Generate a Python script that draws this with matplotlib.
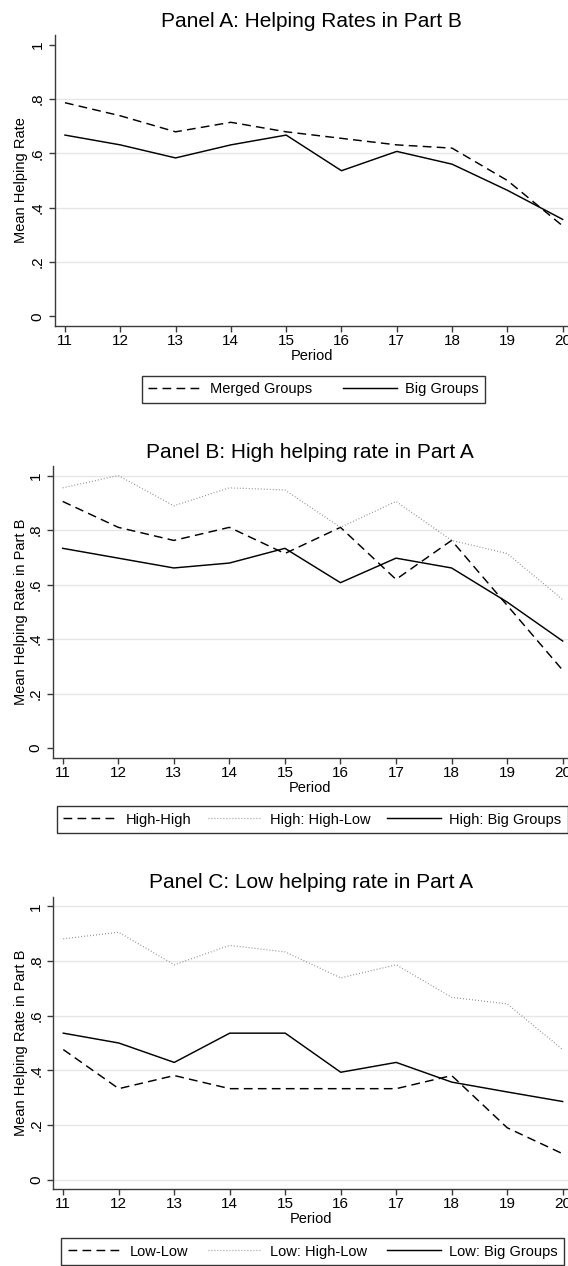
import matplotlib
matplotlib.use("Agg")
import matplotlib.pyplot as plt
from matplotlib.lines import Line2D

plt.rcParams['font.family'] = ['Liberation Sans', 'DejaVu Sans']

# ---------------- data ----------------
periods = [11, 12, 13, 14, 15, 16, 17, 18, 19, 20]

# Panel A
merged_groups = [0.786, 0.738, 0.679, 0.714, 0.679, 0.655, 0.631, 0.619, 0.500, 0.333]
big_groups = [0.667, 0.631, 0.583, 0.631, 0.667, 0.536, 0.607, 0.560, 0.464, 0.357]

# Panel B
high_high = [0.905, 0.810, 0.762, 0.810, 0.714, 0.810, 0.619, 0.762, 0.524, 0.286]
high_highlow = [0.955, 1.000, 0.889, 0.955, 0.947, 0.810, 0.905, 0.762, 0.714, 0.545]
high_big = [0.733, 0.697, 0.661, 0.679, 0.733, 0.607, 0.697, 0.661, 0.536, 0.393]

# Panel C
low_low = [0.476, 0.333, 0.381, 0.333, 0.333, 0.333, 0.333, 0.381, 0.190, 0.095]
low_highlow = [0.881, 0.905, 0.786, 0.857, 0.833, 0.738, 0.786, 0.667, 0.643, 0.476]
low_big = [0.536, 0.500, 0.429, 0.536, 0.536, 0.393, 0.429, 0.357, 0.321, 0.286]

ytick_vals = [0, 0.2, 0.4, 0.6, 0.8, 1.0]
ytick_labels = ["0", ".2", ".4", ".6", ".8", "1"]

titles = ["Panel A: Helping Rates in Part B",
          "Panel B: High helping rate in Part A",
          "Panel C: Low helping rate in Part A"]
ylabels = ["Mean Helping Rate", "Mean Helping Rate in Part B", "Mean Helping Rate in Part B"]

# ---------------- styles ----------------
W, H = 568, 1266
DPI = 100
AXCOL = '#3a3a3a'
GRIDCOL = '#e6e6e6'
FS = 10.5
TFS = 11

solid = dict(color='black', lw=1.05, linestyle='-')
dashed = dict(color='black', lw=1.05, linestyle=(0, (6.0, 3.6)))
dotted = dict(color='#8a8a8a', lw=0.9, linestyle=(0, (0.7, 1.7)))

fig = plt.figure(figsize=(W / DPI, H / DPI), dpi=DPI)
fig.patch.set_facecolor('white')


def add_axes_px(left, top, right, bottom):
    return fig.add_axes([left / W, 1 - bottom / H, (right - left) / W, (bottom - top) / H])


panels = [
    dict(rect=(55, 35, 568, 326),
         series=[(merged_groups, dashed, "Merged Groups"), (big_groups, solid, "Big Groups")],
         grid=[0.2, 0.4, 0.6, 0.8], leg_top=375.5, leg_cx=313.5, ncol=2, colsp=2.1),
    dict(rect=(52.7, 466, 568, 757.7),
         series=[(high_high, dashed, "High-High"), (high_highlow, dotted, "High: High-Low"),
                 (high_big, solid, "High: Big Groups")],
         grid=[0.2, 0.4, 0.6, 0.8, 1.0], leg_top=806, leg_cx=312.2, ncol=3, colsp=1.15),
    dict(rect=(53.3, 896.7, 568, 1189.3),
         series=[(low_low, dashed, "Low-Low"), (low_highlow, dotted, "Low: High-Low"),
                 (low_big, solid, "Low: Big Groups")],
         grid=[0.0, 0.2, 0.4, 0.6, 0.8, 1.0], leg_top=1238, leg_cx=312.5, ncol=3, colsp=1.35),
]

for i, p in enumerate(panels):
    l, t, r, b = p['rect']
    ax = add_axes_px(l, t, r, b)
    ax_w, ax_h = r - l, b - t
    ax.set_xlim(10.82, 20.096)
    ax.set_ylim(-0.035, 1.035)

    for g in p['grid']:
        ax.axhline(g, color=GRIDCOL, lw=1.0, zorder=0)

    handles = []
    for vals, st, lab in p['series']:
        ln, = ax.plot(periods, vals, label=lab, zorder=3, **st)
        handles.append(ln)

    for s in ['top', 'right']:
        ax.spines[s].set_visible(False)
    for s in ['left', 'bottom']:
        ax.spines[s].set_color(AXCOL)
        ax.spines[s].set_linewidth(1.0)

    ax.set_xticks(periods)
    ax.set_xticklabels([str(v) for v in periods])
    ax.set_yticks(ytick_vals)
    ax.set_yticklabels(ytick_labels, rotation=90, va='center')
    ax.tick_params(axis='both', direction='out', length=4.3, width=1.0, color=AXCOL,
                   labelsize=TFS, labelcolor='black')
    ax.tick_params(axis='x', pad=1.5)
    ax.tick_params(axis='y', pad=3.0)

    ax.set_title(titles[i], fontsize=15, pad=6.0, color='black')

    ax.set_xlabel("Period", fontsize=FS)
    ax.xaxis.set_label_coords(0.5, -23.0 / ax_h)
    ax.set_ylabel(ylabels[i], fontsize=FS)
    ax.yaxis.set_label_coords((28 - l) / ax_w, 0.5)

    leg = ax.legend(handles=handles, loc='upper center',
                    bbox_to_anchor=(p['leg_cx'] / W, 1 - p['leg_top'] / H),
                    bbox_transform=fig.transFigure, ncol=p['ncol'], fontsize=FS,
                    frameon=True, fancybox=False, edgecolor='#333333', framealpha=1,
                    handlelength=3.7, handletextpad=0.55, columnspacing=p['colsp'],
                    borderpad=0.45, borderaxespad=0)
    leg.get_frame().set_linewidth(1.0)

fig.savefig("out.png", dpi=DPI, facecolor='white')
